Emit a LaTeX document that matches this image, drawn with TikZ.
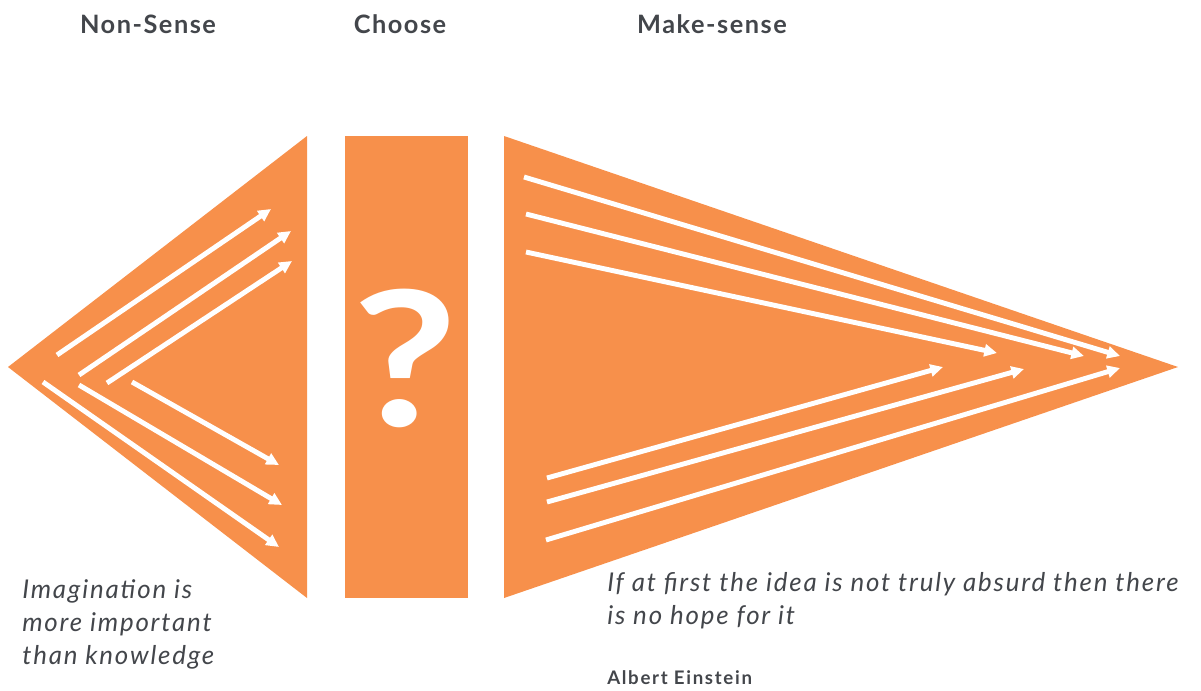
\documentclass[tikz,border=0pt]{standalone}
\usepackage{fontspec}
\setmainfont{Lato}
\newfontfamily\titlefont[LetterSpace=6]{Lato}
\newfontfamily\quotefont[LetterSpace=7]{Lato}
\newfontfamily\authorfont[LetterSpace=9]{Lato}
\usetikzlibrary{arrows.meta}
\definecolor{orng}{HTML}{F7904B}
\definecolor{ink}{HTML}{43464B}
\tikzset{
  shapefill/.style={fill=orng, draw=none},
  whitearrow/.style={draw=white, line width=3.7pt, -{Triangle[length=9.5pt,width=9pt]}},
  title/.style={text=ink, font=\titlefont\bfseries\fontsize{19}{22}\selectfont, anchor=base, inner sep=0pt},
  quote/.style={text=ink, font=\quotefont\itshape\fontsize{19.4}{24.75}\selectfont, align=left, anchor=base west, inner sep=0pt},
}
\begin{document}
\begin{tikzpicture}[x=0.75pt, y=-0.75pt]
\useasboundingbox (0,0) rectangle (1201,690);
% shapes
\fill[shapefill] (8,367) -- (307,136) -- (307,598) -- cycle;
\fill[shapefill] (345,136) rectangle (468,598);
\fill[shapefill] (504,136) -- (1178,367) -- (504,598) -- cycle;
% left arrows
\draw[whitearrow] (57,355) -- (271,209);
\draw[whitearrow] (79,375) -- (291,231);
\draw[whitearrow] (107,383) -- (292,261);
\draw[whitearrow] (132,382) -- (279,465);
\draw[whitearrow] (79,385) -- (282,505);
\draw[whitearrow] (43,382) -- (279,547);
% right arrows
\draw[whitearrow] (524,177) -- (1120,356);
\draw[whitearrow] (526,214) -- (1084,356);
\draw[whitearrow] (526,252) -- (997,353);
\draw[whitearrow] (547,478) -- (943,367);
\draw[whitearrow] (547,502) -- (1024,369);
\draw[whitearrow] (546,540) -- (1120,368);
% question mark
\node[text=white, font=\bfseries\fontsize{141}{141}\selectfont, inner sep=0pt] (q) at (405,358) {\scalebox{1.22}[1]{?}};
% titles
\node[title] (t1) at (148,33) {Non-Sense};
\node[title] (t2) at (400,33) {Choose};
\node[title] (t3) at (712,33) {Make-sense};
% quotes
\node[quote] (q1) at (22,664) {Imagination is\\more important\\than knowledge};
\node[quote] (q2) at (607,624) {If at first the idea is not truly absurd then there\\is no hope for it};
\node[text=ink, font=\authorfont\bfseries\fontsize{14}{16}\selectfont, anchor=base west, inner sep=0pt] (au) at (607,684) {Albert Einstein};
\end{tikzpicture}
\end{document}
